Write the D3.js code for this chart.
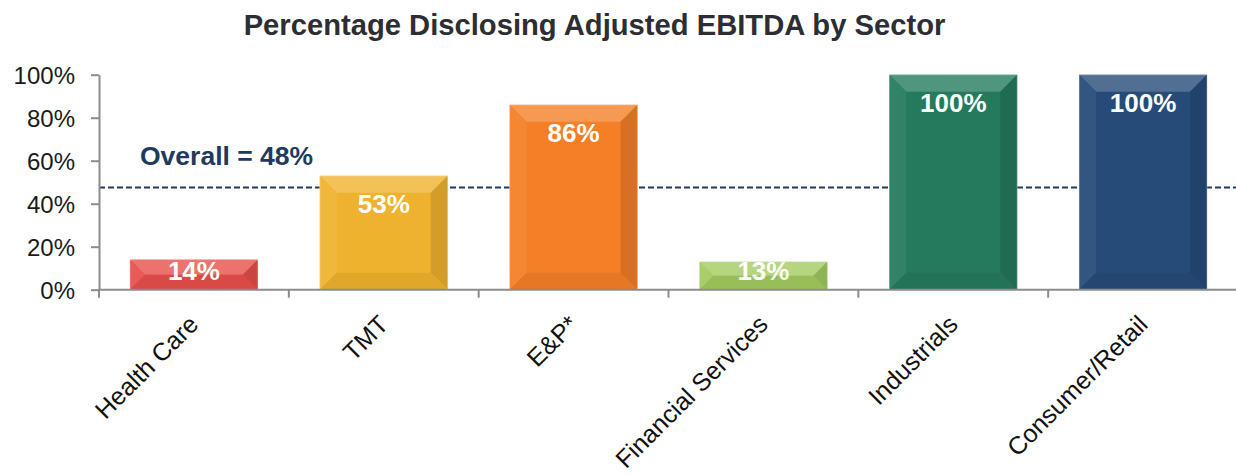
<!DOCTYPE html>
<html>
<head>
<meta charset="utf-8">
<script src="https://cdn.jsdelivr.net/npm/d3@7"></script>
<style>
  html, body { margin: 0; padding: 0; background: #ffffff; }
  svg { display: block; }
  text { font-family: "Liberation Sans", Arial, sans-serif; }
</style>
</head>
<body>
<svg id="chart" width="1236" height="475"></svg>
<script>
const categories = ["Health Care", "TMT", "E&P*", "Financial Services", "Industrials", "Consumer/Retail"];
const values = [14, 53, 86, 13, 100, 100];
const barColors = ["#e74f4a", "#efb22e", "#f47f27", "#a2ca5f", "#247a5d", "#264b78"];
const yTicks = [0, 20, 40, 60, 80, 100];
const overall = 48;
const titleText = "Percentage Disclosing Adjusted EBITDA by Sector";
const overallLabel = "Overall = 48%";

(function () {
const svg = d3.select("#chart");
const plotLeft = 99, plotRight = 1238, plotTop = 74.7, plotBottom = 289.7;

const x = d3.scaleBand().domain(categories).range([plotLeft, plotRight])
  .paddingInner(0.326).paddingOuter(0.163);
const y = d3.scaleLinear().domain([0, 100]).range([plotBottom, plotTop]);

// Title
svg.append("text")
  .attr("x", 594.5).attr("y", 35)
  .attr("text-anchor", "middle")
  .attr("font-size", 29.2).attr("font-weight", "bold")
  .attr("fill", "#2d2e33")
  .text(titleText);

// Overall dashed line (behind bars)
svg.append("line")
  .attr("x1", plotLeft).attr("x2", 1236)
  .attr("y1", y(overall) + 1).attr("y2", y(overall) + 1)
  .attr("stroke", "#1f3a60").attr("stroke-width", 2)
  .attr("stroke-dasharray", "6,3");

svg.append("text")
  .attr("x", 140).attr("y", 165)
  .attr("font-size", 26.5).attr("font-weight", "bold")
  .attr("fill", "#1f3a60")
  .text(overallLabel);

// Bars with bevel
const bars = svg.append("g");
categories.forEach((c, i) => {
  const x0 = x(c), x1 = x(c) + x.bandwidth();
  const y0 = y(values[i]), y1 = y(0);
  const h = y1 - y0, w = x1 - x0;
  const b = Math.min(17, h / 2, w / 2);
  const base = d3.color(barColors[i]);
  const g = bars.append("g");
  const poly = (pts, fill) => g.append("polygon")
    .attr("points", pts.map(p => p.join(",")).join(" "))
    .attr("fill", fill);
  g.append("rect").attr("x", x0).attr("y", y0).attr("width", w).attr("height", h)
    .attr("fill", base.formatHex());
  poly([[x0, y0], [x1, y0], [x1 - b, y0 + b], [x0 + b, y0 + b]], d3.interpolateRgb(base, "#ffffff")(0.2));
  poly([[x0, y0], [x0 + b, y0 + b], [x0 + b, y1 - b], [x0, y1]], d3.interpolateRgb(base, "#ffffff")(0.06));
  poly([[x1, y0], [x1 - b, y0 + b], [x1 - b, y1 - b], [x1, y1]], d3.interpolateRgb(base, "#000000")(0.12));
  poly([[x0, y1], [x1, y1], [x1 - b, y1 - b], [x0 + b, y1 - b]], d3.interpolateRgb(base, "#000000")(0.06));
  g.append("rect").attr("x", x0).attr("y", y0).attr("width", w).attr("height", h)
    .attr("fill", "none").attr("stroke", "#ffffff").attr("stroke-opacity", 0.35).attr("stroke-width", 1);

  const ly = h < 60 ? y1 - 10 : y0 + 37;
  bars.append("text")
    .attr("x", x0 + w / 2).attr("y", ly)
    .attr("text-anchor", "middle")
    .attr("font-size", 26).attr("font-weight", "bold")
    .attr("fill", "#ffffff")
    .text(values[i] + "%");
});

// Y axis
const yAxis = svg.append("g")
  .attr("transform", `translate(${plotLeft},0)`)
  .call(d3.axisLeft(y).tickValues(yTicks).tickFormat(d => d + "%").tickSize(8).tickSizeOuter(0).tickPadding(16));
yAxis.select(".domain").attr("stroke", "#8c8c8c").attr("stroke-width", 2);
yAxis.selectAll(".tick line").attr("stroke", "#8c8c8c").attr("stroke-width", 2);
yAxis.selectAll(".tick text")
  .attr("font-family", "Liberation Sans, Arial, sans-serif")
  .attr("font-size", 24).attr("fill", "#1a1a1a")
  .attr("dy", "0.35em");

// X axis
const xg = svg.append("g");
xg.append("line").attr("x1", plotLeft - 1).attr("x2", plotRight).attr("y1", plotBottom).attr("y2", plotBottom)
  .attr("stroke", "#8c8c8c").attr("stroke-width", 2);
const boundaries = categories.map(c => x(c) - x.step() * x.paddingInner() / 2);
boundaries.push(plotRight);
boundaries.forEach(bx => {
  xg.append("line").attr("x1", bx).attr("x2", bx).attr("y1", plotBottom).attr("y2", plotBottom + 8)
    .attr("stroke", "#8c8c8c").attr("stroke-width", 2);
});
categories.forEach(c => {
  const cx = x(c) + x.bandwidth() / 2;
  xg.append("text")
    .attr("transform", `translate(${cx + 6},${326}) rotate(-45)`)
    .attr("text-anchor", "end")
    .attr("font-size", 25).attr("fill", "#111111")
    .text(c);
});
})();
</script>
</body>
</html>
